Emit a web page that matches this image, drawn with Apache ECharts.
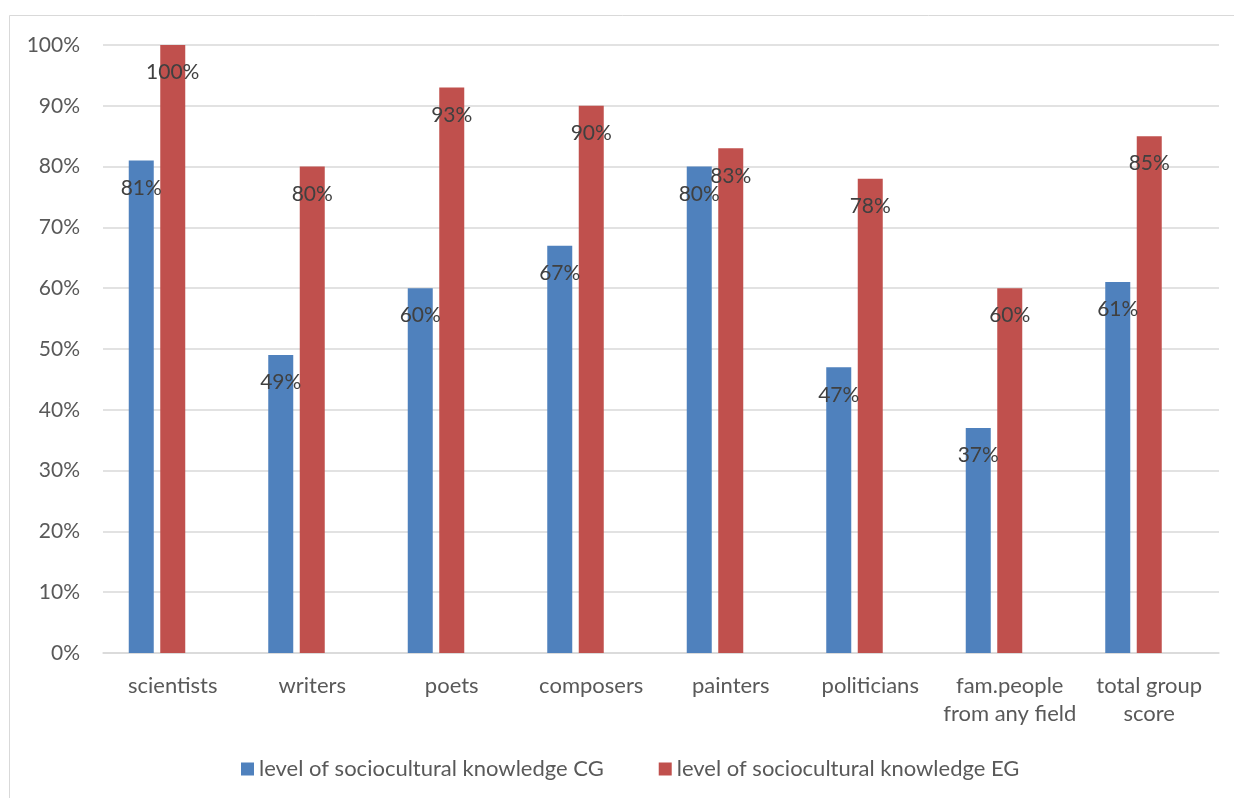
<!DOCTYPE html>
<html>
<head>
<meta charset="utf-8">
<script src="https://cdn.jsdelivr.net/npm/echarts@6/dist/echarts.min.js"></script>
<style>
  html, body { margin: 0; padding: 0; background: #ffffff; }
  #chart { width: 1234px; height: 798px; }
</style>
</head>
<body>
<div id="chart"></div>
<script>
// Sociocultural knowledge levels by category, in percent
const categories = ['scientists', 'writers', 'poets', 'composers', 'painters', 'politicians', 'fam.people\nfrom any field', 'total group\nscore'];
const cgValues = [81, 49, 60, 67, 80, 47, 37, 61];
const egValues = [100, 80, 93, 90, 83, 78, 60, 85];
const yTicks = [0, 10, 20, 30, 40, 50, 60, 70, 80, 90, 100];

const FONT = 'Lato, "Open Sans", sans-serif';

const dataLabel = {
  show: true,
  position: 'insideTop',
  distance: 17,
  color: '#404040',
  fontFamily: FONT,
  fontSize: 21,
  formatter: p => p.value + '%'
};

const chart = echarts.init(document.getElementById('chart'), null, { renderer: 'canvas' });
chart.setOption({
  backgroundColor: '#ffffff',
  animation: false,
  graphic: [{
    type: 'rect',
    shape: { x: 9.5, y: 15.5, width: 1400, height: 1000 },
    style: { fill: 'none', stroke: '#d9d9d9', lineWidth: 1 },
    silent: true
  }],
  grid: { left: 103, right: 15, top: 45, bottom: 145, containLabel: false },
  legend: {
    left: 236,
    top: 753,
    icon: 'rect',
    itemWidth: 13,
    itemHeight: 13,
    itemGap: 55,
    data: ['level of sociocultural knowledge CG', 'level of sociocultural knowledge EG'],
    textStyle: { color: '#595959', fontFamily: FONT, fontSize: 22 }
  },
  xAxis: {
    type: 'category',
    data: categories,
    axisLine: { lineStyle: { color: '#d9d9d9', width: 1.5 } },
    axisTick: { show: false },
    axisLabel: {
      color: '#595959',
      fontFamily: FONT,
      fontSize: 22,
      margin: 19,
      lineHeight: 28,
      interval: 0
    }
  },
  yAxis: {
    type: 'value',
    min: yTicks[0],
    max: yTicks[yTicks.length - 1],
    interval: 10,
    axisLine: { show: false },
    axisTick: { show: false },
    splitLine: { lineStyle: { color: '#d9d9d9', width: 1.5 } },
    axisLabel: {
      color: '#595959',
      fontFamily: FONT,
      fontSize: 21,
      margin: 23,
      formatter: '{value}%'
    }
  },
  series: [
    {
      name: 'level of sociocultural knowledge CG',
      type: 'bar',
      data: cgValues,
      barWidth: 25,
      barGap: '26%',
      itemStyle: { color: '#4f81bd' },
      label: dataLabel
    },
    {
      name: 'level of sociocultural knowledge EG',
      type: 'bar',
      data: egValues,
      barWidth: 25,
      barGap: '26%',
      itemStyle: { color: '#c0504d' },
      label: dataLabel
    },
    {
      // empty third slot that keeps the EG bar on the category centre
      name: 'spacer',
      type: 'bar',
      data: categories.map(() => null),
      barWidth: 25,
      barGap: '26%',
      itemStyle: { color: 'transparent' }
    }
  ]
});
</script>
</body>
</html>
